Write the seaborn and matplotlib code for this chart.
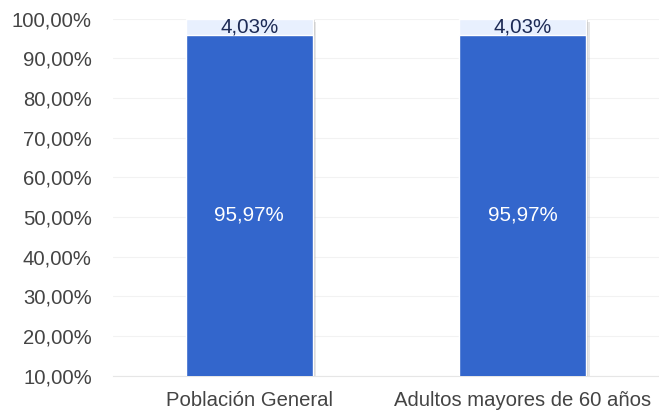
import pandas as pd
import matplotlib
matplotlib.use('Agg')
import matplotlib.pyplot as plt
import matplotlib.patheffects as pe
import seaborn as sns

categories = ['Población General', 'Adultos mayores de 60 años']
si_values = [95.97, 95.97]
no_values = [4.03, 4.03]
y_ticks = [10, 20, 30, 40, 50, 60, 70, 80, 90, 100]

sns.set_style('white')
plt.rcParams['font.family'] = ['Liberation Sans', 'DejaVu Sans']

df = pd.DataFrame({'cat': categories, 'si': si_values, 'no': no_values})
df['total'] = df['si'] + df['no']

fig, ax = plt.subplots(figsize=(6.59, 4.12), dpi=100)
fig.subplots_adjust(left=0.171, right=1.0, top=0.955, bottom=0.088)

# soft shadow to the right and below each bar
shadow = [pe.SimplePatchShadow(offset=(2.5, -2.5), shadow_rgbFace='#bbbbbb', alpha=0.35),
          pe.SimplePatchShadow(offset=(1.2, -1.2), shadow_rgbFace='#999999', alpha=0.4),
          pe.Normal()]

sns.barplot(data=df, x='cat', y='total', color='#E8F0FE', width=0.466,
            saturation=1, ax=ax, zorder=2)
sns.barplot(data=df, x='cat', y='si', color='#3366CC', width=0.466,
            saturation=1, ax=ax, zorder=3)
for p in ax.patches[:len(categories)]:
    p.set_path_effects(shadow)

for i, row in df.iterrows():
    ax.text(i, row['si'] / 2 + 2.6, f"{row['si']:.2f}%".replace('.', ','),
            ha='center', va='center', color='white', fontsize=14.8, zorder=5)
    ax.text(i, row['si'] + row['no'] / 2, f"{row['no']:.2f}%".replace('.', ','),
            ha='center', va='center', color='#1c2a55', fontsize=14.8, zorder=5)

ax.set_ylim(10, 100)
ax.set_yticks(y_ticks)
ax.set_yticklabels([f"{v:.2f}%".replace('.', ',') for v in y_ticks])
ax.grid(axis='y', color='#f2f2f2', linewidth=0.8, zorder=0)
ax.set_axisbelow(True)
ax.set_xlabel('')
ax.set_ylabel('')
ax.tick_params(axis='both', length=0, labelsize=14.6, colors='#444444')
ax.tick_params(axis='y', pad=15)
ax.tick_params(axis='x', pad=11)
for s in ['top', 'right', 'left']:
    ax.spines[s].set_visible(False)
ax.spines['bottom'].set_color('#e6e6e6')

fig.savefig('out.png', dpi=100)
